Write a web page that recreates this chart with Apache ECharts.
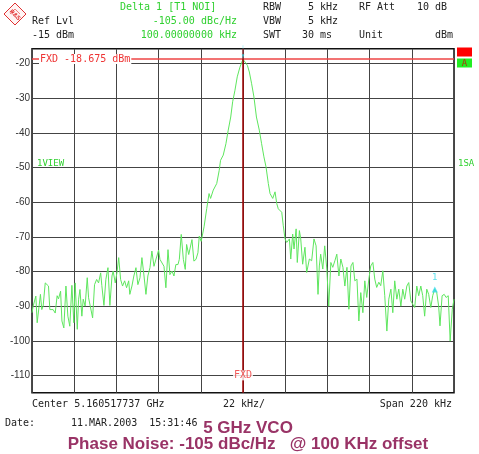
<!DOCTYPE html>
<html>
<head>
<meta charset="utf-8">
<script src="https://cdn.jsdelivr.net/npm/echarts@6/dist/echarts.min.js"></script>
<style>
html, body { margin: 0; padding: 0; background: #fff; }
#chart { width: 479px; height: 454px; }
</style>
</head>
<body>
<div id="chart"></div>
<script>
// frequency offset from center, kHz
const offsetKHz = [
  -110, -109.4, -108, -107.3, -106.3, -105.6, -104.9, -104.2, -103.1, -102.4,
  -101.4, -100.7, -99, -97.9, -96.9, -96.2, -95.1, -94.4, -93.4, -92.3,
  -91.3, -90.3, -89.2, -88.2, -87.5, -86.4, -85.7, -85, -84, -83.3,
  -82.3, -81.2, -80.5, -79.5, -78.4, -77.4, -76.3, -75.3, -74.2, -73.6,
  -72.5, -71.5, -70.4, -69.4, -68.3, -67.7, -66.6, -65.6, -64.8, -63.8,
  -62.8, -61.7, -60.7, -59.6, -59, -57.9, -56.9, -55.8, -54.8, -53.7,
  -52.7, -51.6, -50.6, -49.6, -48.5, -47.5, -46.4, -45.4, -44, -43.3,
  -42.3, -41.2, -40.2, -39.1, -38.1, -37, -36, -35, -33.9, -33.2,
  -32.2, -31.1, -30.1, -29.4, -28.3, -27.3, -26.6, -25.6, -24.5, -23.5,
  -22.8, -21.8, -20.3, -18.9, -18.1, -17.7, -16.9, -15.5, -13.7, -12.4,
  -11.7, -10.3, -8.9, -7.7, -6.4, -5.4, -4.2, -3, -1.6, 0,
  0.9, 2.3, 3.3, 4.5, 5.7, 7, 8.5, 9.7, 10.9, 12,
  13.2, 14.1, 15.5, 16.7, 17.6, 18.4, 19.3, 20.2, 21, 21.9,
  22.8, 24.2, 24.9, 25.9, 26.6, 27.7, 28.3, 29.4, 30.1, 31.1,
  32.3, 33.2, 34.6, 35.8, 37, 38.1, 39.1, 39.8, 40.5, 41.6,
  42.6, 43.7, 44.7, 45.8, 46.8, 47.9, 48.9, 50, 51, 52.1,
  53.1, 54.2, 55.2, 56.3, 57.3, 58.3, 59.4, 60.4, 61.4, 62.5,
  63.5, 64.5, 65.6, 66.6, 67.7, 68.7, 69.7, 70.8, 71.8, 72.9,
  73.9, 75, 76, 77.1, 78.1, 79.1, 80.2, 81.2, 82.3, 83.3,
  84.3, 85.4, 86.4, 87.5, 88.5, 89.5, 90.6, 91.6, 92.7, 93.7,
  94.7, 95.8, 96.8, 97.9, 98.9, 99.9, 101, 102, 102.7, 103.8,
  104.9, 105.9, 107, 108, 109.1, 110
];
// trace level, dBm
const levelDbm = [
  -91.9, -90, -87.1, -94.8, -95.3, -86.6, -91, -90, -83.3, -83,
  -84.2, -91, -91, -92, -87, -87.9, -85.7, -94.3, -96.3, -84.2,
  -92.9, -95.8, -84, -94.8, -83.3, -96.7, -88, -85.2, -92.9, -88,
  -90, -81.8, -87.6, -87.1, -93.4, -83.8, -82.3, -83.3, -80.4, -84,
  -89.8, -82.3, -78.9, -89.8, -81.3, -79.9, -83.3, -79.9, -76, -82.3,
  -84.2, -82.7, -84.7, -82.7, -86.6, -84.2, -81.3, -78.9, -83.8, -81.8,
  -76, -81.3, -86.6, -81.3, -78.9, -74.1, -78.5, -78.9, -73.8, -76.5,
  -76, -78.5, -84.7, -73.7, -80.9, -79.9, -81.3, -78, -78, -76.5,
  -69.3, -76.5, -79.4, -72.2, -75.1, -74.6, -70.8, -77, -76.5, -74.6,
  -69.8, -71.3, -67.1, -61.8, -61.3, -57.5, -58.9, -56.5, -54.6, -50.8,
  -47.9, -46.4, -43.1, -39.2, -35.4, -31, -27.7, -23.8, -21, -18.7,
  -19, -20.5, -22.4, -25.8, -29.6, -35.4, -39.2, -43.1, -46.9, -49.8,
  -54.6, -57.5, -58.9, -57, -60.4, -61.9, -62.3, -62.9, -66.8, -70.6,
  -71.6, -70.6, -76.4, -69.2, -73.5, -67.7, -77.4, -68.2, -70.6, -77.9,
  -73, -80.3, -76.4, -76.9, -70.6, -72.6, -86.6, -78.4, -75, -79.3,
  -72.6, -79.3, -90, -77.4, -78.8, -76.9, -75, -81.3, -76.4, -78.8,
  -84.2, -78.8, -90.9, -78.4, -77.4, -82.7, -82.2, -94.3, -86.1, -91.9,
  -82.7, -87.5, -82.2, -78.4, -77.4, -82.2, -84.6, -83.1, -84.1, -79.8,
  -87, -97.2, -88, -85.1, -91.9, -82.7, -88, -85.1, -90, -85.1,
  -88, -84.2, -83.2, -88.5, -88, -90.4, -84.2, -87, -84.2, -87,
  -92.9, -85.1, -86.6, -90.4, -87, -85.1, -86.1, -90, -95.7, -87,
  -86.6, -87.5, -87, -100.1, -90.9, -88
];
const yTicks = [-20, -30, -40, -50, -60, -70, -80, -90, -100, -110];
const fxdLevel = -18.675;
const peakMarker = [0, -18.7];
const deltaMarker = [100, -85.2];

const mono = 'DejaVu Sans Mono';
const dark = '#222';
const green = '#2fd02f';
const cyan = '#30d8e8';
const maroon = '#993366';

const chart = echarts.init(document.getElementById('chart'));

function txt(x, y, text, opts) {
  opts = opts || {};
  return {
    type: 'text', x: x, y: y, silent: true,
    style: {
      text: text,
      font: opts.font || ('10px ' + mono),
      fill: opts.color || dark,
      align: opts.align || 'left',
      verticalAlign: 'middle'
    }
  };
}

const option = {
  animation: false,
  backgroundColor: '#fff',
  grid: {
    left: 32, right: 25, top: 48.8, bottom: 61.3,
    show: true, borderColor: '#111', borderWidth: 1.5
  },
  xAxis: {
    type: 'value', min: -110, max: 110, interval: 22,
    axisLine: { show: false }, axisTick: { show: false }, axisLabel: { show: false },
    splitLine: { show: true, lineStyle: { color: '#444', width: 1 } }
  },
  yAxis: {
    type: 'value', min: -115, max: -15.7,
    axisLine: { show: false },
    axisTick: { show: false, customValues: yTicks },
    axisLabel: { customValues: yTicks, margin: 2, fontFamily: 'Liberation Sans', fontSize: 10, color: '#333' },
    splitLine: { show: true, lineStyle: { color: '#444', width: 1 } }
  },
  series: [
    {
      type: 'line',
      data: offsetKHz.map((x, i) => [x, levelDbm[i]]),
      showSymbol: false,
      lineStyle: { color: '#5ee65e', width: 1 },
      z: 3,
      markLine: {
        silent: true,
        symbol: ['none', 'none'],
        data: [
          {
            yAxis: fxdLevel,
            lineStyle: { color: '#ee4444', width: 1.5, type: 'solid' },
            label: {
              show: true, position: 'insideStart', distance: 7,
              verticalAlign: 'middle',
              formatter: 'FXD ' + fxdLevel + ' dBm',
              color: '#ee3333', fontFamily: mono, fontSize: 10,
              backgroundColor: '#fff', padding: [0, 1]
            }
          },
          {
            xAxis: 0,
            lineStyle: { color: '#a00000', width: 1.5, type: 'solid' },
            label: { show: false }
          }
        ]
      }
    },
    {
      type: 'scatter',
      data: [peakMarker],
      symbol: 'path://M-0.5,0 L0.5,0 L0.5,9 L3,9 L0,14 L-3,9 L-0.5,9 Z',
      symbolKeepAspect: true,
      symbolSize: [6, 14], symbolOffset: [0, -7],
      itemStyle: { color: cyan },
      z: 5
    },
    {
      type: 'scatter',
      data: [deltaMarker],
      symbol: 'triangle', symbolSize: 6,
      itemStyle: { color: cyan },
      label: {
        show: true, position: 'top', distance: 4, formatter: '1',
        color: cyan, fontFamily: mono, fontSize: 9
      },
      z: 5
    },
    {
      type: 'scatter',
      data: [[0, -110]],
      symbolSize: 1,
      itemStyle: { color: 'transparent' },
      label: {
        show: true, position: 'inside', formatter: 'FXD',
        color: '#ee3333', fontFamily: mono, fontSize: 10,
        backgroundColor: '#fff', padding: [0, 1]
      },
      z: 6
    }
  ],
  graphic: [
    // R&S logo
    {
      type: 'polygon', silent: true,
      shape: { points: [[15, 3], [26, 14], [15, 25], [4, 14]] },
      style: { fill: '#fff4f4', stroke: '#e03030', lineWidth: 1 }
    },
    {
      type: 'polyline', silent: true,
      shape: { points: [[10, 14], [15, 9], [20, 14]] },
      style: { stroke: '#f08080', lineWidth: 1, fill: 'none' }
    },
    {
      type: 'text', x: 15, y: 15, rotation: -Math.PI / 4, silent: true,
      style: { text: 'R&S', font: 'bold 6px Liberation Sans', fill: '#e03030', align: 'center', verticalAlign: 'middle' }
    },
    txt(120, 7, 'Delta 1 [T1 NOI]', { color: green }),
    txt(32, 21, 'Ref Lvl'),
    txt(237, 21, '-105.00 dBc/Hz', { color: green, align: 'right' }),
    txt(32, 35, '-15 dBm'),
    txt(237, 35, '100.00000000 kHz', { color: green, align: 'right' }),
    txt(263, 7, 'RBW'),
    txt(338, 7, '5 kHz', { align: 'right' }),
    txt(359, 7, 'RF Att'),
    txt(447, 7, '10 dB', { align: 'right' }),
    txt(263, 21, 'VBW'),
    txt(338, 21, '5 kHz', { align: 'right' }),
    txt(263, 35, 'SWT'),
    txt(332, 35, '30 ms', { align: 'right' }),
    txt(359, 35, 'Unit'),
    txt(453, 35, 'dBm', { align: 'right' }),
    // side indicators
    { type: 'rect', silent: true, shape: { x: 457, y: 47.5, width: 15, height: 9 }, style: { fill: '#ff0000' } },
    { type: 'rect', silent: true, shape: { x: 457, y: 58.5, width: 15, height: 9 }, style: { fill: '#22ee22' } },
    txt(464.5, 63.5, 'A', { color: '#b03010', font: '9px ' + mono, align: 'center' }),
    txt(37, 164, '1VIEW', { color: green, font: '9px ' + mono }),
    txt(458, 164, '1SA', { color: green, font: '9px ' + mono }),
    // footer
    txt(32, 404, 'Center 5.160517737 GHz'),
    txt(223, 404, '22 kHz/'),
    txt(452, 404, 'Span 220 kHz', { align: 'right' }),
    txt(5, 423, 'Date:'),
    txt(71, 423, '11.MAR.2003  15:31:46'),
    txt(248, 428, '5 GHz VCO', { color: maroon, font: 'bold 17px Liberation Sans', align: 'center' }),
    txt(248, 444, 'Phase Noise: -105 dBc/Hz   @ 100 KHz offset', { color: maroon, font: 'bold 17px Liberation Sans', align: 'center' })
  ]
};

chart.setOption(option);
</script>
</body>
</html>
